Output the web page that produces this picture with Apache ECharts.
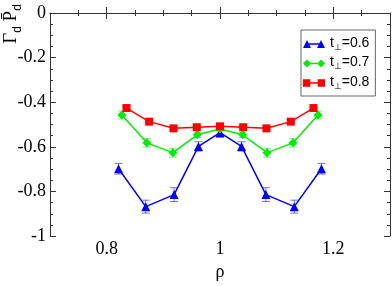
<!DOCTYPE html>
<html>
<head>
<meta charset="utf-8">
<script src="https://cdn.jsdelivr.net/npm/echarts@6/dist/echarts.min.js"></script>
<style>
html,body{margin:0;padding:0;background:#fff;}
#chart{width:392px;height:286px;}
</style>
</head>
<body>
<div id="chart"></div>
<script>
// ---- data ----
var rho06 = [0.821, 0.869, 0.919, 0.962, 1.0, 1.038, 1.081, 1.131, 1.179];
var val06 = [-0.698, -0.868, -0.814, -0.598, -0.536, -0.598, -0.814, -0.868, -0.698];
var err06 = [0.024, 0.029, 0.031, 0.021, 0.022, 0.021, 0.031, 0.029, 0.024];

var rho07 = [0.827, 0.871, 0.917, 0.960, 1.0, 1.040, 1.083, 1.129, 1.173];
var val07 = [-0.457, -0.582, -0.626, -0.546, -0.520, -0.546, -0.626, -0.582, -0.457];
var err07 = [0.018, 0.019, 0.020, 0.012, 0.010, 0.012, 0.020, 0.019, 0.018];

var rho08 = [0.835, 0.875, 0.918, 0.959, 1.0, 1.041, 1.082, 1.125, 1.165];
var val08 = [-0.426, -0.487, -0.517, -0.512, -0.508, -0.512, -0.517, -0.487, -0.426];
var err08 = [0.006, 0.006, 0.006, 0.006, 0.006, 0.006, 0.006, 0.006, 0.006];

var seriesNames = ['0.6', '0.7', '0.8'];
var xMajorTicks = [0.8, 1, 1.2];
var xMinorTicks = [0.75, 0.85, 0.9, 0.95, 1.05, 1.1, 1.15, 1.25];
var yMajorTicks = [-1, -0.8, -0.6, -0.4, -0.2, 0];

function pts(xs, ys) { return xs.map(function (x, i) { return [x, ys[i]]; }); }
function errPts(xs, ys, es) { return xs.map(function (x, i) { return [x, ys[i], es[i]]; }); }

var axisColor = '#333';
var serif = 'Liberation Serif';

function errSeries(data, color) {
  return {
    type: 'custom',
    data: data,
    z: 1,
    silent: true,
    encode: { x: 0, y: 1 },
    renderItem: function (params, api) {
      var x = api.value(0), y = api.value(1), e = api.value(2);
      var top = api.coord([x, y + e]);
      var bot = api.coord([x, y - e]);
      var w = 4;
      var st = { stroke: color, lineWidth: 1 };
      return {
        type: 'group',
        children: [
          { type: 'line', shape: { x1: top[0], y1: top[1], x2: bot[0], y2: bot[1] }, style: st },
          { type: 'line', shape: { x1: top[0] - w, y1: top[1], x2: top[0] + w, y2: top[1] }, style: st },
          { type: 'line', shape: { x1: bot[0] - w, y1: bot[1], x2: bot[0] + w, y2: bot[1] }, style: st }
        ]
      };
    }
  };
}

function lineSeries(name, data, color, symbol, size) {
  return {
    name: name,
    type: 'line',
    data: data,
    z: 3,
    symbol: symbol,
    symbolSize: size,
    itemStyle: { color: color },
    lineStyle: { color: color, width: 1.5 },
    animation: false
  };
}

var bar = ' M5,3.3 L17,3.3 L17,4.7 L5,4.7 Z';
var iconTri = 'path://M0,8 L4,0 L8,8 Z M14,8 L18,0 L22,8 Z' + bar;
var iconDia = 'path://M0,4 L4,0 L8,4 L4,8 Z M14,4 L18,0 L22,4 L18,8 Z' + bar;
var iconSq = 'path://M0.5,0.5 L7.5,0.5 L7.5,7.5 L0.5,7.5 Z M14.5,0.5 L21.5,0.5 L21.5,7.5 L14.5,7.5 Z' + bar;

var chart = echarts.init(document.getElementById('chart'), null, { renderer: 'canvas' });
chart.setOption({
  animation: false,
  backgroundColor: '#fff',
  grid: { left: 50, right: 2, top: 13, bottom: 36 },
  legend: {
    orient: 'vertical',
    left: 301,
    top: 30,
    padding: [6, 6, 5, 2],
    itemGap: 3.5,
    itemWidth: 22,
    itemHeight: 8,
    backgroundColor: '#fff',
    borderColor: '#666',
    borderWidth: 1,
    borderRadius: 0,
    data: [
      { name: seriesNames[0], icon: iconTri },
      { name: seriesNames[1], icon: iconDia },
      { name: seriesNames[2], icon: iconSq }
    ],
    formatter: function (n) { return '{a|t}{b|⊥}{a|=' + n + '}'; },
    textStyle: {
      color: '#000',
      rich: {
        a: { fontFamily: 'Liberation Sans', fontSize: 14, color: '#000', lineHeight: 16, verticalAlign: 'top' },
        b: { fontFamily: 'DejaVu Sans', fontSize: 9, color: '#000', lineHeight: 10, padding: [7, 0, 0, 0], verticalAlign: 'top' }
      }
    }
  },
  xAxis: [
    {
      type: 'value', min: 0.7, max: 1.3, position: 'bottom',
      axisLine: { show: true, lineStyle: { color: axisColor, width: 1 } },
      axisTick: { show: true, inside: true, length: 6, customValues: xMajorTicks, lineStyle: { color: axisColor } },
      axisLabel: { show: true, customValues: xMajorTicks, fontFamily: serif, fontSize: 18, color: '#000', margin: 4,
        formatter: function (v) { return String(v); } },
      splitLine: { show: false },
      name: 'ρ', nameLocation: 'middle', nameGap: 26,
      nameTextStyle: { fontFamily: serif, fontSize: 18, color: '#000' }
    },
    {
      type: 'value', min: 0.7, max: 1.3, position: 'bottom',
      axisLine: { show: false },
      axisTick: { show: true, inside: true, length: 3, customValues: xMinorTicks, lineStyle: { color: axisColor } },
      axisLabel: { show: false },
      splitLine: { show: false }
    },
    {
      type: 'value', min: 0.7, max: 1.3, position: 'top',
      axisLine: { show: true, lineStyle: { color: axisColor, width: 1 } },
      axisTick: { show: true, inside: true, length: 6, customValues: xMajorTicks, lineStyle: { color: axisColor } },
      axisLabel: { show: false },
      splitLine: { show: false }
    },
    {
      type: 'value', min: 0.7, max: 1.3, position: 'top',
      axisLine: { show: false },
      axisTick: { show: true, inside: true, length: 3, customValues: xMinorTicks, lineStyle: { color: axisColor } },
      axisLabel: { show: false },
      splitLine: { show: false }
    }
  ],
  yAxis: [
    {
      type: 'value', min: -1, max: 0, interval: 0.2, position: 'left',
      axisLine: { show: true, lineStyle: { color: axisColor, width: 1 } },
      axisTick: { show: true, inside: true, length: 6, customValues: yMajorTicks, lineStyle: { color: axisColor } },
      minorTick: { show: true, splitNumber: 4, length: 3, lineStyle: { color: axisColor } },
      axisLabel: { show: true, customValues: yMajorTicks, fontFamily: serif, fontSize: 18, color: '#000', margin: 4,
        formatter: function (v) { return String(Math.round(v * 10) / 10); } },
      splitLine: { show: false },
      minorSplitLine: { show: false }
    },
    {
      type: 'value', min: -1, max: 0, interval: 0.2, position: 'right',
      axisLine: { show: true, lineStyle: { color: axisColor, width: 1 } },
      axisTick: { show: true, inside: true, length: 6, lineStyle: { color: axisColor } },
      minorTick: { show: true, splitNumber: 4, length: 3, lineStyle: { color: axisColor } },
      axisLabel: { show: false },
      splitLine: { show: false },
      minorSplitLine: { show: false }
    }
  ],
  graphic: [
    {
      type: 'text',
      x: 12,
      y: 24,
      rotation: Math.PI / 2,
      style: {
        text: '{m|Γ}{s|d}{m| P̄}{s|d}',
        align: 'center',
        verticalAlign: 'middle',
        rich: {
          m: { fontFamily: serif, fontSize: 19, fill: '#000', lineHeight: 20, verticalAlign: 'top' },
          s: { fontFamily: 'Liberation Sans', fontSize: 12, fill: '#000', lineHeight: 12, padding: [10, 0, 0, 0], verticalAlign: 'top' }
        }
      }
    }
  ],
  series: [
    errSeries(errPts(rho06, val06, err06), 'rgba(0,0,255,0.55)'),
    errSeries(errPts(rho07, val07, err07), 'rgba(0,220,0,0.55)'),
    errSeries(errPts(rho08, val08, err08), 'rgba(255,0,0,0.55)'),
    lineSeries(seriesNames[0], pts(rho06, val06), '#0000ff', 'triangle', 9),
    lineSeries(seriesNames[1], pts(rho07, val07), '#00ee00', 'diamond', 9),
    lineSeries(seriesNames[2], pts(rho08, val08), '#ff0000', 'rect', 8)
  ]
});
</script>
</body>
</html>
